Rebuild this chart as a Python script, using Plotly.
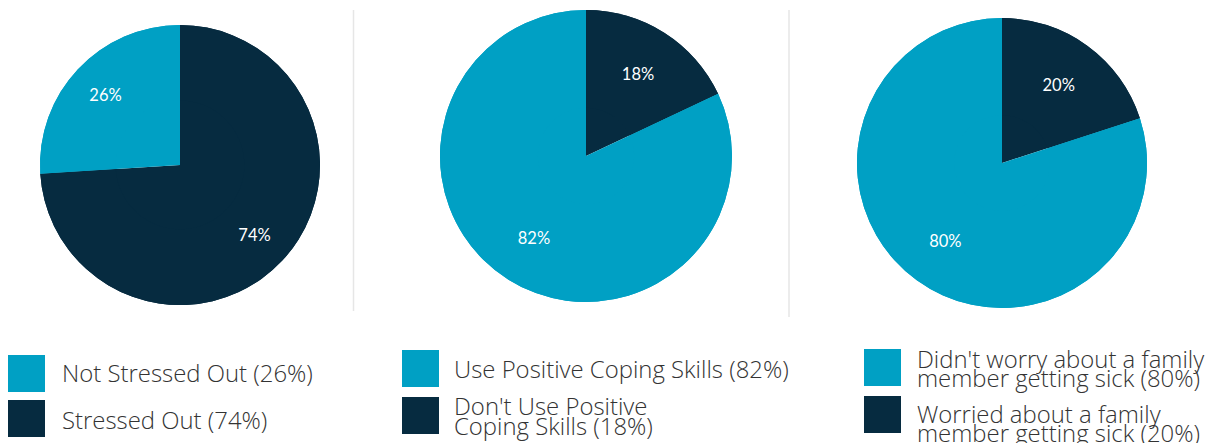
import plotly.graph_objects as go

W, H = 1214, 443
LIGHT = "#00A0C4"
DARK = "#062B40"

# Data
pie1_labels = ["Stressed Out", "Not Stressed Out"]
pie1_values = [74, 26]
pie2_labels = ["Don't Use Positive Coping Skills", "Use Positive Coping Skills"]
pie2_values = [18, 82]
pie3_labels = ["Worried about a family member getting sick", "Didn't worry about a family member getting sick"]
pie3_values = [20, 80]

legend1_lines = [["Not Stressed Out (26%)"], ["Stressed Out (74%)"]]
legend2_lines = [["Use Positive Coping Skills (82%)"], ["Don't Use Positive", "Coping Skills (18%)"]]
legend3_lines = [["Didn't worry about a family", "member getting sick (80%)"],
                 ["Worried about a family", "member getting sick (20%)"]]


def px_dom(cx, cy, r):
    return dict(x=[(cx - r) / W, (cx + r) / W], y=[1 - (cy + r) / H, 1 - (cy - r) / H])


fig = go.Figure()
# (labels, values, geometry, label ring hole used only to place the % labels)
pies = [
    (pie1_labels, pie1_values, (180, 165, 140), 0.46),
    (pie2_labels, pie2_values, (586, 156, 146), 0.33),
    (pie3_labels, pie3_values, (1002, 163, 145), 0.33),
]
for labels, values, (cx, cy, r), hole in pies:
    common = dict(labels=labels, values=values, sort=False, direction="clockwise", rotation=0,
                  marker=dict(colors=[DARK, LIGHT], line=dict(width=0)),
                  domain=px_dom(cx, cy, r), showlegend=False, hoverinfo="label+value")
    # full pie body
    fig.add_trace(go.Pie(textinfo="none", **common))
    # ring on top carrying the percentage labels
    fig.add_trace(go.Pie(hole=hole, texttemplate="%{value}%", textposition="inside",
                         insidetextorientation="horizontal",
                         textfont=dict(family="Lato", size=16.5, color="white"), **common))

shapes = []
annotations = []
# divider lines
for x, y0, y1 in [(353.5, 10, 311), (789, 10, 317)]:
    shapes.append(dict(type="line", xref="paper", yref="paper",
                       x0=x / W, x1=x / W, y0=1 - y1 / H, y1=1 - y0 / H,
                       line=dict(color="#E6E6E6", width=1.5)))

# custom legends: (lines, square x, square tops, text x, line centers)
legend_specs = [
    (legend1_lines, 8, [355, 400], 60, [[372], [419]]),
    (legend2_lines, 402, [350, 397], 452, [[368], [405, 425]]),
    (legend3_lines, 864, [349, 396], 915, [[358, 377], [413, 432]]),
]
for lines, sx, tops, tx, centers in legend_specs:
    for color, top, item_lines, item_centers in zip([LIGHT, DARK], tops, lines, centers):
        shapes.append(dict(type="rect", xref="paper", yref="paper",
                           x0=sx / W, x1=(sx + 37) / W, y0=1 - (top + 37) / H, y1=1 - top / H,
                           fillcolor=color, line=dict(width=0)))
        for txt, yc in zip(item_lines, item_centers):
            annotations.append(dict(text=txt, xref="paper", yref="paper",
                                    x=tx / W, y=1 - yc / H, xanchor="left", yanchor="middle",
                                    showarrow=False,
                                    font=dict(family="Open Sans", size=23.9, color="#333333", weight=300)))

fig.update_layout(
    width=W, height=H, margin=dict(l=0, r=0, t=0, b=0),
    paper_bgcolor="white", plot_bgcolor="white",
    shapes=shapes, annotations=annotations,
)
fig.write_html("out.html", config={"displayModeBar": False},
               post_script="document.body.style.margin='0px';")
